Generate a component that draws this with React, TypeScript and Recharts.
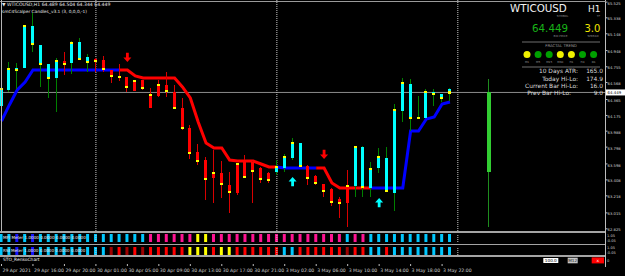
import React from "react";
import { ComposedChart, Bar, Line, Scatter, XAxis, YAxis, ReferenceLine, Cell } from "recharts";

const FONT = "'DejaVu Sans', Verdana, sans-serif";

// ---------- data ----------
const symbol = "WTICOUSD";
const timeframe = "H1";
const bidPrice = 64.449;
const spread = 3.0;

const candleOpen = [64.288, 64.478, 64.74, 64.74, 65.24, 65.014, 64.788, 64.621, 64.823, 64.8, 65.05, 64.871, 64.847, 64.835, 64.716, 64.645, 64.633, 64.466, 64.597, 64.264, 64.407, 64.538, 64.454, 64.264, 64.026, 63.74, 63.644, 63.43, 63.49, 63.347, 63.251, 63.644, 63.621, 63.549, 63.49, 63.501, 63.549, 63.668, 63.847, 63.573, 63.454, 63.359, 63.299, 63.18, 63.132, 63.335, 63.799, 63.311, 63.549, 63.668, 63.251, 64.228, 64.55, 64.157, 64.145, 64.454, 64.43, 64.489];
const candleHigh = [64.502, 64.812, 64.8, 65.252, 65.395, 65.014, 64.788, 64.859, 64.931, 65.062, 65.097, 64.907, 64.859, 64.883, 64.716, 64.788, 64.633, 64.597, 64.597, 64.502, 64.597, 64.692, 64.538, 64.383, 64.061, 63.835, 63.68, 63.763, 63.632, 63.501, 63.609, 63.704, 63.632, 63.561, 63.501, 63.644, 63.716, 63.906, 63.847, 63.585, 63.466, 63.359, 63.311, 63.204, 63.525, 63.811, 63.811, 63.621, 63.787, 63.799, 64.311, 64.621, 64.609, 64.407, 64.49, 64.49, 64.43, 64.504];
const candleLow = [64.276, 64.454, 64.49, 64.74, 64.931, 64.514, 64.383, 64.216, 64.657, 64.669, 64.835, 64.692, 64.692, 64.692, 64.561, 64.585, 64.454, 64.466, 64.478, 64.264, 64.395, 64.395, 64.264, 64.002, 63.656, 63.585, 63.168, 63.132, 63.192, 63.013, 63.228, 63.43, 63.132, 63.37, 63.37, 63.466, 63.501, 63.644, 63.573, 63.347, 63.347, 63.204, 63.097, 62.954, 62.846, 63.204, 63.204, 63.204, 63.49, 63.263, 63.037, 64.097, 63.99, 64.133, 64.145, 64.288, 64.335, 64.344];
const candleClose = [64.49, 64.728, 64.716, 65.24, 65.026, 64.788, 64.621, 64.823, 64.788, 65.038, 64.847, 64.812, 64.823, 64.728, 64.645, 64.633, 64.514, 64.585, 64.502, 64.419, 64.538, 64.466, 64.264, 64.026, 63.728, 63.632, 63.418, 63.49, 63.359, 63.263, 63.597, 63.442, 63.513, 63.418, 63.406, 63.561, 63.68, 63.847, 63.573, 63.43, 63.37, 63.275, 63.144, 63.132, 63.335, 63.799, 63.323, 63.537, 63.68, 63.275, 64.24, 64.561, 64.145, 64.145, 64.454, 64.43, 64.383, 64.449];
const candleTrend = ("uuuuuuuu" + "d" + "uuu" + "dddddddddd" + "dddddddddd" + "ddd" + "uuuu" + "dddddd" + "uuuuuuuuuu" + "uuu").split("");

const trendUp = [64.109, 64.3, 64.478, 64.573, 64.716, 64.716, 64.716, 64.716, 64.716, 64.716, 64.716, 64.716, 64.716, 64.716, 64.716, 64.716,
  null, null, null, null, null, null, null, null, null, null, null, null, null, null, null, null, null, null, null,
  63.561, 63.549, 63.549, 63.549, 63.549, 63.549,
  null, null, null, null, null, null,
  63.311, 63.311, 63.311, 63.311, 63.311, 63.99, 63.99, 64.133, 64.157, 64.311, 64.335];
const trendDown = [null, null, null, null, null, null, null, null, null, null, null, null, null, null, null,
  64.716, 64.716, 64.645, 64.621, 64.621, 64.621, 64.621, 64.621,
  64.514, 64.383, 64.097, 63.847, 63.787, 63.787, 63.644, 63.632, 63.632, 63.632, 63.597, 63.561, 63.561,
  null, null, null, null,
  63.549, 63.549, 63.37, 63.311, 63.311, 63.311, 63.311, 63.311,
  null, null, null, null, null, null, null, null, null, null];

const arrowBars = [16, 41, 37, 48];
const arrowPrices = [64.812, 63.656, 63.442, 63.192];
const arrowDirs = ["down", "down", "up", "up"];

// higher timeframe (daily) candle drawn to the right
const htfBar = 62;
const htfOpen = 63.501;
const htfHigh = 64.609;
const htfLow = 62.846;
const htfClose = 64.449;

const priceTicks = [65.525, 65.338, 65.148, 64.948, 64.755, 64.568, 64.365, 64.175, 63.988, 63.798, 63.598, 63.408, 63.218, 63.015, 62.825];
const separatorBars = [12, 35, 58];
const timeTickBars = [0, 4, 8, 12, 16, 20, 24, 28, 32, 36, 40, 44, 48, 52, 56];
const timeTickLabels = ["29 Apr 2021", "29 Apr 16:00", "29 Apr 20:00", "30 Apr 01:00", "30 Apr 05:00", "30 Apr 09:00", "30 Apr 13:00", "30 Apr 17:00", "30 Apr 21:00", "3 May 02:00", "3 May 06:00", "3 May 10:00", "3 May 14:00", "3 May 18:00", "3 May 22:00"];

const mfiStates = ("ccbcb" + "cccccccccccccc" + "pppppp" + "yy" + "ppppppppppppppppp" + "c" + "pp" + "ccccccccccc").split("");
const rsiStates = ("ccbcbccccccccc" + "drdrd" + "rrrrr" + "yyy" + "r" + "yy" + "rrrrrr" + "cc" + "rrrrrr" + "d" + "rr" + "cc" + "r" + "cccccccc").split("");

const fractalFrames = ["M1", "M5", "M15", "M30", "H1", "H4", "D1"];
const fractalUp = [false, true, true, false, false, true, true];
const statLabels = ["10 Days ATR:", "Today Hi-Lo:", "Current Bar Hi-Lo:", "Prev Bar Hi-Lo:"];
const statValues = [165.0, 174.9, 16.0, 9.0];

// ---------- layout constants ----------
const X_DOMAIN: [number, number] = [-0.19, 76.77];
const PRICE_MAX = 65.55;
const PRICE_MIN = 62.799;

const stripPalette: Record<string, string> = {
  c: "#00c8ff",
  b: "#1414ff",
  p: "#ff1493",
  y: "#ffff00",
  r: "#ff0000",
  d: "#a00000",
};

const mainRows: any[] = candleOpen.map((o, i) => ({
  i,
  range: [candleLow[i], candleHigh[i]],
  o,
  c: candleClose[i],
  kind: candleTrend[i],
  up: trendUp[i],
  dn: trendDown[i],
}));
mainRows.push({ i: htfBar, range: [htfLow, htfHigh], o: htfOpen, c: htfClose, kind: "h", up: null, dn: null });

const arrowRows = arrowBars.map((b, k) => ({ i: b, price: arrowPrices[k], dir: arrowDirs[k] }));

const CandleShape = (props: any) => {
  const { x, y, width, height, payload } = props;
  if (!payload || !payload.range) return null;
  const [lo, hi] = payload.range;
  const top = Math.min(y, y + height);
  const bot = Math.max(y, y + height);
  const span = hi - lo || 1;
  const py = (p: number) => top + ((hi - p) / span) * (bot - top);
  const cx = x + width / 2;
  const isHtf = payload.kind === "h";
  const up = payload.kind === "u";
  const body = isHtf ? "#32cd32" : up ? "#00ffff" : "#ff0000";
  const wick = isHtf ? "#1e8c1e" : up ? "#008000" : "#d80000";
  const bw = isHtf ? 4 : 3;
  const yo = py(payload.o);
  const yc = py(payload.c);
  const bt = Math.min(yo, yc);
  const bb = Math.max(yo, yc);
  return (
    <g shapeRendering="crispEdges">
      <rect x={cx - 0.5} y={top} width={1} height={Math.max(bot - top, 1)} fill={wick} />
      <rect x={cx - bw / 2} y={bt} width={bw} height={Math.max(bb - bt, 1)} fill={body} />
      {!isHtf && <rect x={cx - 1.5} y={yc - 1.25} width={3} height={2.5} fill="#ffff00" />}
    </g>
  );
};

const ArrowShape = (props: any) => {
  const { cx, cy, payload } = props;
  if (cx == null || cy == null) return null;
  const s = payload.dir === "down" ? -1 : 1;
  const pts = [
    [0, 0],
    [4, 4.5],
    [1.4, 4.5],
    [1.4, 9.3],
    [-1.4, 9.3],
    [-1.4, 4.5],
    [-4, 4.5],
  ]
    .map(([dx, dy]) => `${cx + dx},${cy + s * dy}`)
    .join(" ");
  return <polygon points={pts} fill={payload.dir === "down" ? "#ff0000" : "#00ffff"} />;
};

const PriceTick = (props: any) => {
  const { x, y, payload } = props;
  const v = payload.value;
  if (v === bidPrice) {
    return (
      <g>
        <rect x={x - 1.5} y={y - 3} width={19} height={6} fill="#ffffff" />
        <text x={x} y={y + 1.6} fontSize={3.9} fill="#000" fontFamily={FONT}>
          {v.toFixed(3)}
        </text>
      </g>
    );
  }
  return (
    <text x={x} y={y + 2.6} fontSize={3.8} fill="#cfcfcf" fontFamily={FONT}>
      {v.toFixed(3)}
    </text>
  );
};

const TimeTick = (props: any) => {
  const { x, y, payload } = props;
  const k = timeTickBars.indexOf(payload.value);
  return (
    <text x={x + 1} y={y + 4.2} fontSize={4.6} fill="#cfcfcf" fontFamily={FONT} textAnchor="start">
      {timeTickLabels[k]}
    </text>
  );
};

const separators = (key: string) =>
  separatorBars.map((b) => (
    <ReferenceLine key={key + b} x={b} stroke="#c8c8c8" strokeDasharray="1 1" ifOverflow="visible" />
  ));

function Strip({ top, states, caption }: { top: number; states: string[]; caption: string }) {
  const rows = states.map((k, i) => ({ i, v: 1, k }));
  return (
    <div style={{ position: "absolute", left: 0, top, width: 625, height: 12 }}>
      <ComposedChart width={625} height={12} data={rows} margin={{ top: 2, right: 19.5, bottom: 2, left: 0 }}>
        <XAxis type="number" dataKey="i" domain={X_DOMAIN} hide allowDataOverflow />
        <YAxis domain={[0, 1]} hide allowDataOverflow />
        {separators(caption)}
        <Bar dataKey="v" barSize={3} isAnimationActive={false}>
          {rows.map((r) => (
            <Cell key={r.i} fill={stripPalette[r.k]} />
          ))}
        </Bar>
      </ComposedChart>
    </div>
  );
}

export default function App() {
  const txt = { fontFamily: FONT } as const;
  return (
    <div style={{ position: "absolute", left: 0, top: 0, width: 625, height: 276, background: "#000", overflow: "hidden" }}>
      {/* main price window */}
      <div style={{ position: "absolute", left: 0, top: 0 }}>
        <ComposedChart width={625} height={231} data={mainRows} margin={{ top: 0, right: 0, bottom: 0, left: 0 }}>
          <XAxis type="number" dataKey="i" domain={X_DOMAIN} hide allowDataOverflow />
          <YAxis
            orientation="right"
            type="number"
            width={19.5}
            domain={[PRICE_MIN, PRICE_MAX]}
            allowDataOverflow
            ticks={[...priceTicks, bidPrice]}
            interval={0}
            tick={<PriceTick />}
            tickSize={2}
            tickMargin={0}
            axisLine={{ stroke: "#bdbdbd" }}
            tickLine={{ stroke: "#bdbdbd" }}
          />
          <ReferenceLine y={bidPrice} stroke="#8c8c8c" />
          {separators("m")}
          <Line type="linear" dataKey="up" stroke="#0000ff" strokeWidth={3} dot={false} activeDot={false} connectNulls={false} isAnimationActive={false} />
          <Line type="linear" dataKey="dn" stroke="#ff0000" strokeWidth={3} dot={false} activeDot={false} connectNulls={false} isAnimationActive={false} />
          <Bar dataKey="range" barSize={3} shape={<CandleShape />} isAnimationActive={false} zIndex={450} />
          <Scatter data={arrowRows} dataKey="price" shape={<ArrowShape />} isAnimationActive={false} />
        </ComposedChart>
      </div>

      <Strip top={232} states={mfiStates} caption="mfi" />
      <Strip top={244.5} states={rsiStates} caption="rsi" />

      {/* STO window + time axis */}
      <div style={{ position: "absolute", left: 0, top: 256 }}>
        <ComposedChart width={625} height={20} data={mainRows} margin={{ top: 0, right: 19.5, bottom: 0, left: 0 }}>
          <XAxis
            type="number"
            dataKey="i"
            domain={X_DOMAIN}
            allowDataOverflow
            height={12}
            ticks={timeTickBars}
            interval={0}
            tick={<TimeTick />}
            tickSize={2}
            axisLine={false}
            tickLine={{ stroke: "#bdbdbd" }}
          />
          <YAxis hide domain={[0, 1]} />
          {separators("s")}
        </ComposedChart>
      </div>

      {/* panel borders */}
      <div style={{ position: "absolute", left: 0, top: 0.5, width: 605.5, height: 1, background: "#9a9a9a" }} />
      <div style={{ position: "absolute", left: 1, top: 0, width: 1, height: 231, background: "#b4b4b4" }} />
      <div style={{ position: "absolute", left: 0, top: 231, width: 605.5, height: 1.8, background: "#a4a4a4" }} />
      <div style={{ position: "absolute", left: 0, top: 243.6, width: 605.5, height: 1.8, background: "#a4a4a4" }} />
      <div style={{ position: "absolute", left: 0, top: 255.3, width: 605.5, height: 1.8, background: "#a4a4a4" }} />
      <div style={{ position: "absolute", left: 605, top: 231, width: 1, height: 36, background: "#bdbdbd" }} />

      {/* overlay texts */}
      <svg width={625} height={276} style={{ position: "absolute", left: 0, top: 0, pointerEvents: "none" }}>
        <text x={2} y={6.3} fontSize={4.6} fill="#e6e6e6" style={txt}>
          {"\u25BC " + symbol + "," + timeframe + "  64.489 64.504 64.344 " + bidPrice.toFixed(3)}
        </text>
        <text x={2} y={13.3} fontSize={4.3} fill="#e6e6e6" style={txt}>
          smC4Scalper Candles_v3.1 (3, 0,0,0,-1)
        </text>

        {/* info panel */}
        <text x={510} y={11.8} fontSize={10.3} fill="#f2f2f2" style={txt}>{symbol}</text>
        <text x={588} y={11.8} fontSize={9} fill="#f2f2f2" style={txt}>{timeframe}</text>
        <text x={562.5} y={17} fontSize={2.8} fill="#8a8a8a" textAnchor="middle" style={txt}>SYMBOL</text>
        <text x={598.5} y={17} fontSize={2.8} fill="#8a8a8a" textAnchor="middle" style={txt}>TF</text>
        <text x={532} y={31.6} fontSize={10.3} fill="#18b418" style={txt}>{bidPrice.toFixed(3)}</text>
        <text x={584.5} y={31.6} fontSize={10} fill="#f0e600" style={txt}>{spread.toFixed(1)}</text>
        <text x={560.5} y={37} fontSize={2.8} fill="#8a8a8a" textAnchor="middle" style={txt}>BID PRICE</text>
        <text x={593} y={37} fontSize={2.8} fill="#8a8a8a" textAnchor="middle" style={txt}>SPREAD</text>
        <line x1={522} x2={600} y1={42} y2={42} stroke="#6e6e6e" strokeWidth={1} />
        <text x={561} y={47.4} fontSize={3.9} fill="#9a9a9a" textAnchor="middle" style={txt}>FRACTAL TREND</text>
        {fractalFrames.map((f, k) => (
          <g key={f}>
            <circle cx={527 + k * 11.1} cy={54.5} r={3.5} fill={fractalUp[k] ? "#00a000" : "#f0f000"} />
            <text x={527 + k * 11.1} y={62.8} fontSize={2.8} fill="#9a9a9a" textAnchor="middle" style={txt}>{f}</text>
          </g>
        ))}
        <line x1={522} x2={600} y1={67} y2={67} stroke="#6e6e6e" strokeWidth={1} />
        {statLabels.map((l, k) => (
          <g key={l}>
            <text x={k === 3 ? 571 : 578} y={73.4 + k * 7.3} fontSize={5.9} fill="#dcdcdc" textAnchor="end" style={txt}>{l}</text>
            <text x={603} y={73.4 + k * 7.3} fontSize={5.9} fill="#dcdcdc" textAnchor="end" style={txt}>{statValues[k].toFixed(1)}</text>
          </g>
        ))}

        {/* indicator window captions */}
        <text x={3} y={239.3} fontSize={4.1} fill="#f0f0f0" style={txt}>MFI Meter 1.0000 0.0000 0.0000 0.0000</text>
        <text x={3} y={251.8} fontSize={4.1} fill="#f0f0f0" style={txt}>RSI Meter 1.0000 0.0000 0.0000 0.0000</text>
        <text x={3} y={261} fontSize={4.4} fill="#f0f0f0" style={txt}>STO_RenkoChart</text>
        <text x={607} y={236.8} fontSize={3.6} fill="#cfcfcf" style={txt}>1.05</text>
        <text x={606.5} y={241.5} fontSize={3.6} fill="#cfcfcf" style={txt}>-0.05</text>
        <text x={607} y={249.3} fontSize={3.6} fill="#cfcfcf" style={txt}>1.05</text>
        <text x={606.5} y={254} fontSize={3.6} fill="#cfcfcf" style={txt}>-0.05</text>
        <text x={607} y={262} fontSize={3.6} fill="#cfcfcf" style={txt}>0</text>

        {/* buttons */}
        <rect x={543.3} y={258} width={15} height={5} fill="#ffffff" />
        <text x={550.8} y={262} fontSize={4.2} fill="#000" textAnchor="middle" style={txt}>100.0</text>
        <rect x={567.7} y={257.7} width={10} height={5.6} fill="#c4c4c4" />
        <text x={572.7} y={262} fontSize={4.2} fill="#202020" textAnchor="middle" style={txt}>M12</text>
        <rect x={591.7} y={257.4} width={12.3} height={6} fill="#ff0000" />
        <text x={597.8} y={261.8} fontSize={4.2} fill="#ffffff" textAnchor="middle" style={txt}>x</text>
      </svg>
    </div>
  );
}
